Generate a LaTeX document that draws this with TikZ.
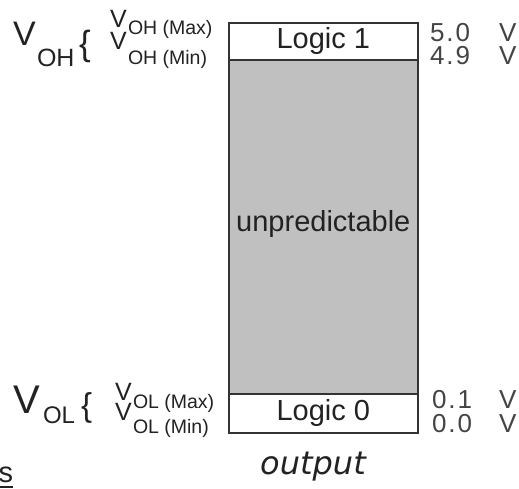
\documentclass[tikz,border=0pt]{standalone}
\usepackage{fontspec}
\setmainfont{Liberation Sans}
\newfontfamily\outfont{DejaVu Sans}
\definecolor{ink}{HTML}{222222}
\definecolor{softink}{HTML}{444444}
\definecolor{edge}{HTML}{333333}
\definecolor{midgray}{HTML}{C0C0C0}
\begin{document}
\begin{tikzpicture}[x=1pt,y=-1pt,
  txt/.style={inner sep=0pt, outer sep=0pt, text=ink, anchor=base west},
  val/.style={txt, text=softink, font=\fontsize{26}{26}\selectfont},
  fs/.style={font=\fontsize{#1}{#1}\selectfont},
  boxpart/.style={draw=edge, line width=1.6pt, minimum width=189pt, inner sep=0pt,
    anchor=north west, font=\fontsize{29}{29}\selectfont, text=ink}]
\useasboundingbox (0,0) rectangle (519,489);
\fill[white] (0,0) rectangle (519,489);

% stacked box
\node[boxpart, fill=white, minimum height=37pt] (logic1) at (228,22) {Logic 1};
\node[boxpart, fill=midgray, minimum height=334pt] (mid) at (228,59) {\raisebox{12pt}{unpredictable}};
\node[boxpart, fill=white, minimum height=39pt] (logic0) at (228,393) {Logic 0};

% right-hand values
\node[val] (v50) at (430,42) {5\kern2pt.\kern2pt0};
\node[val] (u50) at (499,42) {V};
\node[val] (v49) at (430,65) {4\kern2pt.\kern2pt9};
\node[val] (u49) at (499,65) {V};
\node[val] (v01) at (432,408) {0\kern2pt.\kern2pt1};
\node[val] (u01) at (499,408) {V};
\node[val] (v00) at (432,432) {0\kern2pt.\kern2pt0};
\node[val] (u00) at (499,432) {V};

% V_OH group
\node[txt, fs=34] (voh) at (13,46) {V};
\node[txt, fs=25] (vohsub) at (37,67) {OH};
\node[txt, fs=35] (braceh) at (79,56) {\{};
\node[txt, fs=25] (vohmax) at (110,28) {V};
\node[txt, fs=19.5] (vohmaxsub) at (128,35) {OH (Max)};
\node[txt, fs=25] (vohmin) at (110,50) {V};
\node[txt, fs=19.5] (vohminsub) at (128,65) {OH (Min)};

% V_OL group
\node[txt, fs=40] (vol) at (13,413) {V};
\node[txt, fs=24] (volsub) at (43,423) {OL};
\node[txt, fs=33] (bracel) at (81,416) {\{};
\node[txt, fs=25] (volmax) at (115,400) {V};
\node[txt, fs=19.5] (volmaxsub) at (133,408) {OL (Max)};
\node[txt, fs=25] (volmin) at (115,420) {V};
\node[txt, fs=19.5] (volminsub) at (133,433) {OL (Min)};

% caption
\node[inner sep=0pt, text=ink, font=\outfont\itshape\fontsize{32}{32}\selectfont] (outcap) at (313,467) {output};

% cut-off underlined word at lower left
\node[txt, anchor=base east, fs=29] (sfrag) at (13,482) {s};
\draw[ink, line width=1.3pt] ([yshift=-5pt]sfrag.base west) -- ([yshift=-5pt]sfrag.base east);
\end{tikzpicture}
\end{document}
